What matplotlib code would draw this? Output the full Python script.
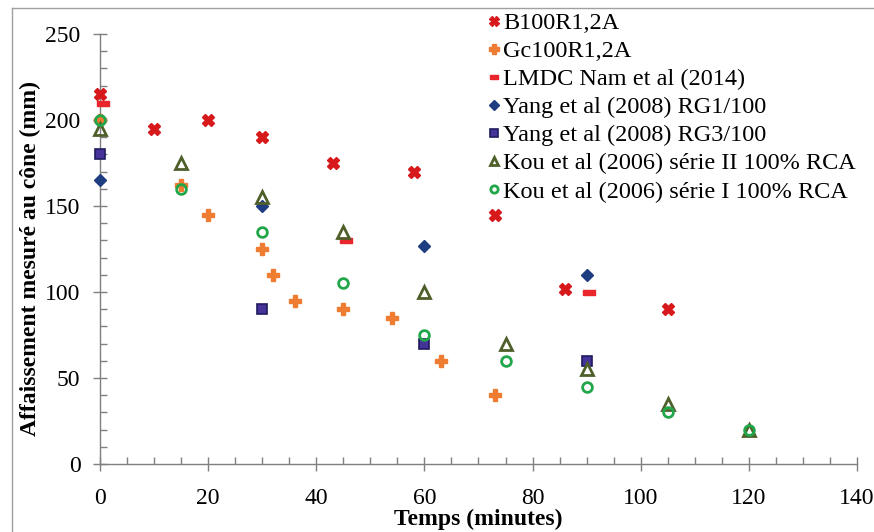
import matplotlib
matplotlib.use("Agg")
import matplotlib.pyplot as plt
from matplotlib.ticker import MultipleLocator
from matplotlib.lines import Line2D

plt.rcParams['font.family'] = ['Liberation Serif', 'DejaVu Serif']

# ---- data ----
b100_t = [0, 10, 20, 30, 43, 58, 73, 86, 105]
b100_v = [215, 195, 200, 190, 175, 170, 145, 102, 90]

gc100_t = [0, 15, 20, 30, 32, 36, 45, 54, 63, 73]
gc100_v = [200, 162, 145, 125, 110, 95, 90, 85, 60, 40]

lmdc_t = [0.5, 45.5, 90.5]
lmdc_v = [210, 130, 100]

yang1_t = [0, 30, 60, 90]
yang1_v = [165, 150, 127, 110]

yang3_t = [0, 30, 60, 90]
yang3_v = [180, 90, 70, 60]

kou2_t = [0, 15, 30, 45, 60, 75, 90, 105, 120]
kou2_v = [195, 175, 155, 135, 100, 70, 55, 35, 20]

kou1_t = [0, 15, 30, 45, 60, 75, 90, 105, 120]
kou1_v = [200, 160, 135, 105, 75, 60, 45, 30, 20]

labels = ["B100R1,2A", "Gc100R1,2A", "LMDC Nam et al (2014)",
          "Yang et al (2008) RG1/100", "Yang et al (2008) RG3/100",
          "Kou et al (2006) série II 100% RCA", "Kou et al (2006) série I 100% RCA"]

W, H = 874, 532
fig = plt.figure(figsize=(W / 100, H / 100), dpi=100)
ax = fig.add_axes([100 / W, (H - 464) / H, 757 / W, 430 / H])

dash = [(-1, -0.45), (1, -0.45), (1, 0.45), (-1, 0.45), (-1, -0.45)]

common = dict(ls='none', clip_on=False)
ax.plot(b100_t, b100_v, marker='X', ms=9, mfc='#D7191C', mec='#D7191C', label=labels[0], **common)
ax.plot(gc100_t, gc100_v, marker='P', ms=9, mfc='#EE7D31', mec='#EE7D31', label=labels[1], **common)
ax.plot(lmdc_t, lmdc_v, marker=dash, ms=8, mfc='#E8262B', mec='#E8262B', label=labels[2], **common)
ax.plot(yang1_t, yang1_v, marker='D', ms=6.5, mfc='#1F3E82', mec='#1F3E82', label=labels[3], **common)
ax.plot(yang3_t, yang3_v, marker='s', ms=7, mfc='#46339A', mec='#1F1A5E', mew=1.2, label=labels[4], **common)
ax.plot(kou2_t, kou2_v, marker='^', ms=8, mfc='none', mec='#4E5F2A', mew=2, label=labels[5], **common)
ax.plot(kou1_t, kou1_v, marker='o', ms=7, mfc='none', mec='#21A64A', mew=2, label=labels[6], **common)

ax.set_xlim(0, 140)
ax.set_ylim(0, 250)
ax.xaxis.set_major_locator(MultipleLocator(20))
ax.xaxis.set_minor_locator(MultipleLocator(5))
ax.yaxis.set_major_locator(MultipleLocator(50))
ax.yaxis.set_minor_locator(MultipleLocator(10))

gray = '#7F7F7F'
for s in ['top', 'right']:
    ax.spines[s].set_visible(False)
for s in ['left', 'bottom']:
    ax.spines[s].set_color(gray)
    ax.spines[s].set_linewidth(1)
    ax.spines[s].set_zorder(0.5)

ax.tick_params(which='major', direction='inout', length=10, width=1, color=gray, labelsize=17)
ax.tick_params(which='minor', direction='in', length=5, width=1, color=gray)
ax.tick_params(axis='x', which='major', pad=12)
ax.tick_params(axis='y', which='major', pad=9)

ax.set_xlabel("Temps (minutes)", fontsize=17, fontweight='bold', labelpad=0)
ax.set_ylabel("Affaissement mesuré au cône (mm)", fontsize=17, fontweight='bold')
ax.yaxis.set_label_coords(-59 / 757, 0.477)

fig.legend(loc='upper left', bbox_to_anchor=(484 / W, 1 - 12 / H), frameon=False,
           fontsize=17.5, markerscale=0.75, handlelength=0.8, handletextpad=0.0,
           labelspacing=0.25, borderpad=0, borderaxespad=0)

# figure frame (top and left edges)
fig.add_artist(Line2D([11.5 / W, 11.5 / W], [0, 1 - 8 / H], transform=fig.transFigure, color='#A0A0A0', lw=1))
fig.add_artist(Line2D([11.5 / W, 1], [1 - 8 / H, 1 - 8 / H], transform=fig.transFigure, color='#A0A0A0', lw=1))

fig.savefig("out.png", dpi=100)
